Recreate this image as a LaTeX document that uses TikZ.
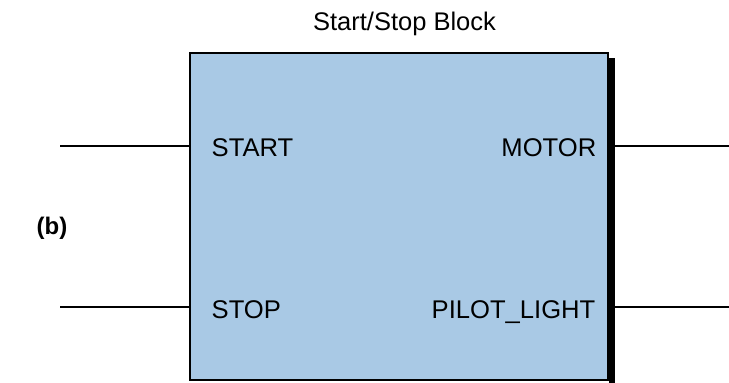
\documentclass[tikz,border=0pt]{standalone}
\usepackage{fontspec}
\setmainfont{Liberation Sans}
\definecolor{boxblue}{RGB}{169,201,229}
\begin{document}
\begin{tikzpicture}[x=1pt,y=1pt,
  blockbox/.style={draw=black, line width=2pt, fill=boxblue, minimum width=418pt, minimum height=327pt, inner sep=0pt},
  wire/.style={draw=black, line width=2pt},
  lbl/.style={inner sep=0pt, font=\fontsize{25.6}{30}\selectfont},
  ttl/.style={inner sep=0pt, font=\fontsize{25.5}{30}\selectfont},
  tag/.style={inner sep=0pt, font=\fontsize{24}{28}\selectfont\bfseries}]
\useasboundingbox (0,0) rectangle (729,383);
% shadow
\fill[black] (609,325) rectangle (615,-6);
\node[blockbox] (blk) at (399,166.5) {};
% wires
\coordinate (in1) at (60,237);
\coordinate (in2) at (60,76);
\coordinate (out1) at (729,237);
\coordinate (out2) at (729,76);
\draw[wire] (in1) -- (in1 -| blk.west);
\draw[wire] (in2) -- (in2 -| blk.west);
\draw[wire] (out1) -- (out1 -| blk.east);
\draw[wire] (out2) -- (out2 -| blk.east);
% labels
\node[lbl, anchor=base west] (start) at (211.5,226) {START};
\node[lbl, anchor=base west] (stop) at (211.5,64) {STOP};
\node[lbl, anchor=base east] (motor) at (596.5,226) {MOTOR};
\node[lbl, anchor=base east] (pilot) at (595.5,64) {PILOT\_LIGHT};
\node[ttl, anchor=base] (title) at (404.5,352) {Start/Stop Block};
\node[tag, anchor=base] (b) at (52,148) {(b)};
\end{tikzpicture}
\end{document}
